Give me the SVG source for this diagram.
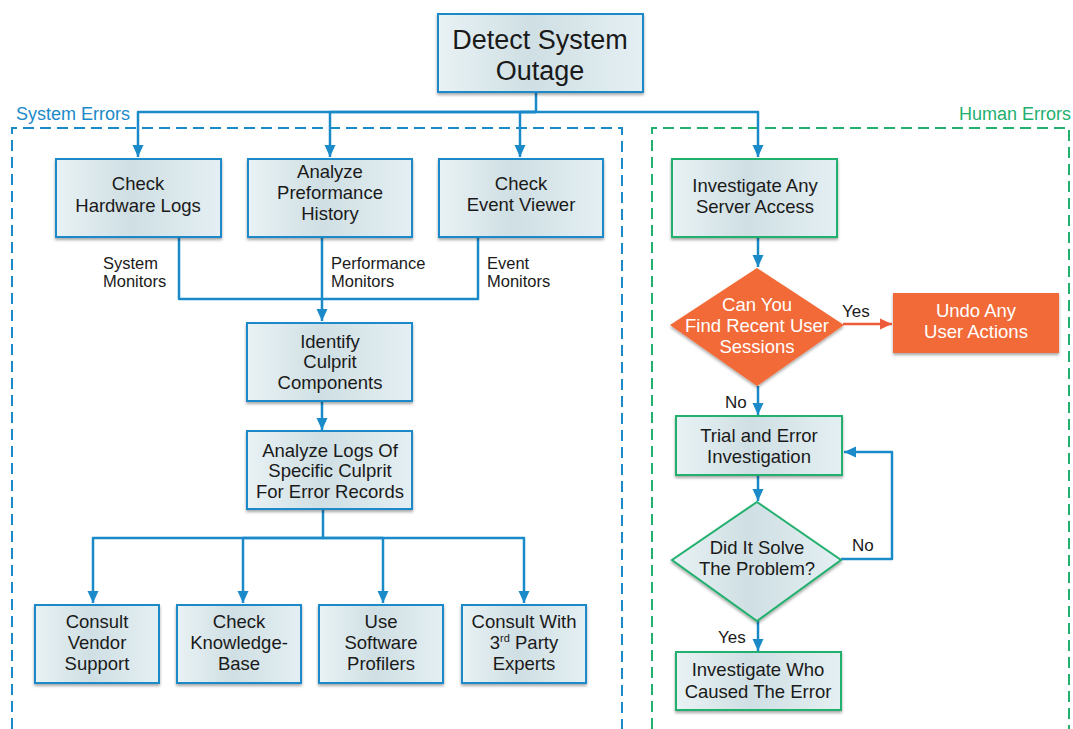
<svg xmlns="http://www.w3.org/2000/svg" width="1073" height="729" viewBox="0 0 1073 729">
<defs>
<linearGradient id="boxGrad" x1="0" y1="0" x2="1" y2="0">
<stop offset="0" stop-color="#e9f2f5"/>
<stop offset="0.45" stop-color="#cfdfe3"/>
<stop offset="1" stop-color="#e4eff3"/>
</linearGradient>
<filter id="shadow" x="-5%" y="-5%" width="110%" height="120%">
<feDropShadow dx="0" dy="2" stdDeviation="1.5" flood-color="#000" flood-opacity="0.35"/>
</filter>
<marker id="arrow" markerUnits="userSpaceOnUse" markerWidth="12" markerHeight="12" refX="12" refY="6" orient="auto">
<path d="M0,0.5 L12,6 L0,11.5 z" fill="#1b8ac9"/>
</marker>
<marker id="arrowOrange" markerUnits="userSpaceOnUse" markerWidth="12" markerHeight="12" refX="12" refY="6" orient="auto">
<path d="M0,0.5 L12,6 L0,11.5 z" fill="#ee5b3c"/>
</marker>
</defs>
<style>
.box{fill:url(#boxGrad);stroke:#1b8ac9;stroke-width:2;filter:url(#shadow)}
.gbox{fill:url(#boxGrad);stroke:#22b06e;stroke-width:2;filter:url(#shadow)}
.obox{fill:#f26b37;filter:url(#shadow)}
.t{font-family:"Liberation Sans",Arial,sans-serif;font-size:18.5px;fill:#1a1a1a;text-anchor:middle}
.title{font-size:27px}
.tw{font-family:"Liberation Sans",Arial,sans-serif;font-size:18.5px;fill:#ffffff;text-anchor:middle}
.lbl{font-family:"Liberation Sans",Arial,sans-serif;font-size:16.5px;fill:#1a1a1a}
.yn{font-size:17px}
.conn{fill:none;stroke:#1b8ac9;stroke-width:2.5;stroke-linejoin:round}
</style>
<rect width="1073" height="729" fill="#ffffff"/>

<g id="system-errors-region">
<path d="M12,729 V128 H622 V729" fill="none" stroke="#1b8ac9" stroke-width="2" stroke-dasharray="11,6"/>
<text x="16" y="120" font-family="Liberation Sans, Arial, sans-serif" font-size="18" fill="#1b8ac9">System Errors</text>
</g>
<g id="human-errors-region">
<path d="M652,729 V128 H1069 V729" fill="none" stroke="#22b06e" stroke-width="2" stroke-dasharray="11,6"/>
<text x="1071" y="120" font-family="Liberation Sans, Arial, sans-serif" font-size="18" fill="#22b06e" text-anchor="end">Human Errors</text>
</g>

<g id="connectors">
<path class="conn" d="M536,92 V112 H138 V157" marker-end="url(#arrow)"/>
<path class="conn" d="M536,112 H330 V157" marker-end="url(#arrow)"/>
<path class="conn" d="M536,112 H520 V157" marker-end="url(#arrow)"/>
<path class="conn" d="M536,112 H758 V157" marker-end="url(#arrow)"/>
<path class="conn" d="M179,237 V299 H478 V237"/>
<path class="conn" d="M322,237 V321" marker-end="url(#arrow)"/>
<path class="conn" d="M322,401 V430" marker-end="url(#arrow)"/>
<path class="conn" d="M323,509 V538 H93 V603" marker-end="url(#arrow)"/>
<path class="conn" d="M323,538 H243 V603" marker-end="url(#arrow)"/>
<path class="conn" d="M323,538 H383 V603" marker-end="url(#arrow)"/>
<path class="conn" d="M323,538 H524 V603" marker-end="url(#arrow)"/>
<path class="conn" d="M758,237 V267" marker-end="url(#arrow)"/>
<path d="M843,324 H892" fill="none" stroke="#ee5b3c" stroke-width="2.5" marker-end="url(#arrowOrange)"/>
<path class="conn" d="M758,386 V415" marker-end="url(#arrow)"/>
<path class="conn" d="M758,475 V501" marker-end="url(#arrow)"/>
<path class="conn" d="M841,559 H892 V452 H844" marker-end="url(#arrow)"/>
<path class="conn" d="M758,621 V651" marker-end="url(#arrow)"/>
<text class="lbl" x="103" y="269">System</text>
<text class="lbl" x="103" y="287">Monitors</text>
<text class="lbl" x="331" y="269">Performance</text>
<text class="lbl" x="331" y="287">Monitors</text>
<text class="lbl" x="487" y="269">Event</text>
<text class="lbl" x="487" y="287">Monitors</text>
<text class="lbl yn" x="842" y="317">Yes</text>
<text class="lbl yn" x="725" y="408">No</text>
<text class="lbl yn" x="852" y="551">No</text>
<text class="lbl yn" x="718" y="643">Yes</text>
</g>

<g id="detect-outage">
<rect class="box" x="438" y="14" width="205" height="78"/>
<text class="t title" x="540" y="49">Detect System</text>
<text class="t title" x="540" y="80">Outage</text>
</g>
<g id="check-hardware-logs">
<rect class="box" x="56" y="159" width="165" height="78"/>
<text class="t" x="138" y="190">Check</text>
<text class="t" x="138" y="212">Hardware Logs</text>
</g>
<g id="analyze-performance">
<rect class="box" x="248" y="159" width="164" height="78"/>
<text class="t" x="330" y="178">Analyze</text>
<text class="t" x="330" y="199">Preformance</text>
<text class="t" x="330" y="220">History</text>
</g>
<g id="check-event-viewer">
<rect class="box" x="439" y="159" width="164" height="78"/>
<text class="t" x="521" y="190">Check</text>
<text class="t" x="521" y="211">Event Viewer</text>
</g>
<g id="identify-culprit">
<rect class="box" x="247" y="323" width="165" height="78"/>
<text class="t" x="330" y="348">Identify</text>
<text class="t" x="330" y="368">Culprit</text>
<text class="t" x="330" y="389">Components</text>
</g>
<g id="analyze-logs">
<rect class="box" x="247" y="431" width="165" height="78"/>
<text class="t" x="330" y="457">Analyze Logs Of</text>
<text class="t" x="330" y="477">Specific Culprit</text>
<text class="t" x="330" y="498">For Error Records</text>
</g>
<g id="consult-vendor">
<rect class="box" x="35" y="605" width="124" height="78"/>
<text class="t" x="97" y="628">Consult</text>
<text class="t" x="97" y="649">Vendor</text>
<text class="t" x="97" y="670">Support</text>
</g>
<g id="check-knowledge-base">
<rect class="box" x="177" y="605" width="124" height="78"/>
<text class="t" x="239" y="628">Check</text>
<text class="t" x="239" y="649">Knowledge-</text>
<text class="t" x="239" y="670">Base</text>
</g>
<g id="use-software-profilers">
<rect class="box" x="319" y="605" width="124" height="78"/>
<text class="t" x="381" y="628">Use</text>
<text class="t" x="381" y="649">Software</text>
<text class="t" x="381" y="670">Profilers</text>
</g>
<g id="consult-third-party">
<rect class="box" x="462" y="605" width="124" height="78"/>
<text class="t" x="524" y="628">Consult With</text>
<text class="t" x="524" y="649">3<tspan style="font-size:11px" dy="-7">rd</tspan><tspan dy="7"> Party</tspan></text>
<text class="t" x="524" y="670">Experts</text>
</g>
<g id="investigate-server-access">
<rect class="gbox" x="672" y="159" width="165" height="78"/>
<text class="t" x="755" y="192">Investigate Any</text>
<text class="t" x="755" y="213">Server Access</text>
</g>
<g id="find-user-sessions">
<polygon points="757,268 844,325 757,386 670,325" fill="#f26b37" filter="url(#shadow)"/>
<text class="tw" x="757" y="311">Can You</text>
<text class="tw" x="757" y="332">Find Recent User</text>
<text class="tw" x="757" y="353">Sessions</text>
</g>
<g id="undo-user-actions">
<rect class="obox" x="893" y="293" width="166" height="60"/>
<text class="tw" x="976" y="317">Undo Any</text>
<text class="tw" x="976" y="338">User Actions</text>
</g>
<g id="trial-and-error">
<rect class="gbox" x="676" y="416" width="166" height="59"/>
<text class="t" x="759" y="442">Trial and Error</text>
<text class="t" x="759" y="463">Investigation</text>
</g>
<g id="did-it-solve">
<polygon points="757,502 841,560 757,621 672,560" fill="url(#boxGrad)" stroke="#22b06e" stroke-width="2" filter="url(#shadow)"/>
<text class="t" x="757" y="554">Did It Solve</text>
<text class="t" x="757" y="575">The Problem?</text>
</g>
<g id="investigate-who">
<rect class="gbox" x="676" y="652" width="165" height="58"/>
<text class="t" x="758" y="676">Investigate Who</text>
<text class="t" x="758" y="698">Caused The Error</text>
</g>
</svg>
